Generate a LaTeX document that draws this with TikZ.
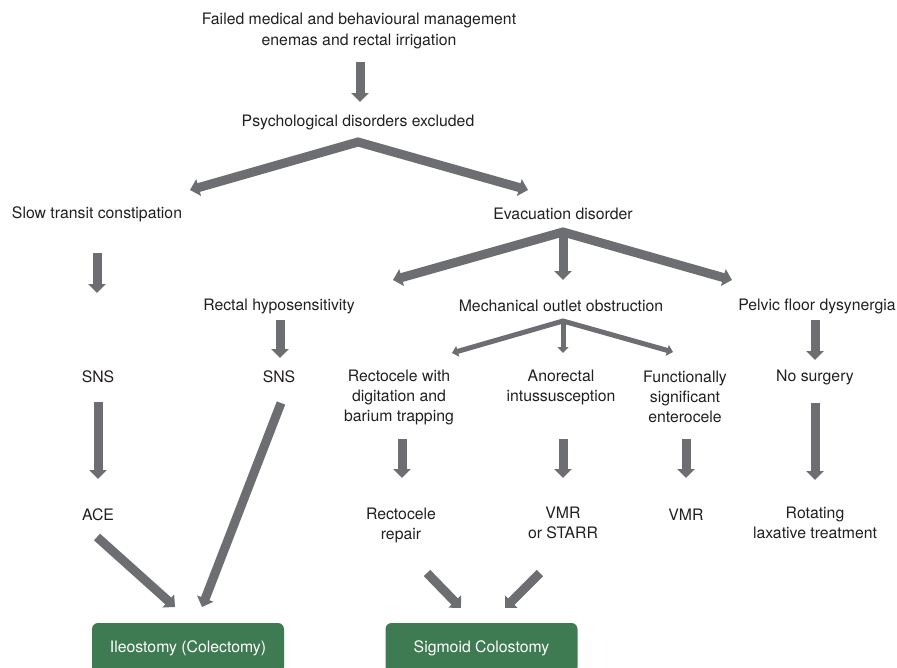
\documentclass[tikz,border=0pt]{standalone}
\usepackage{fontspec}
\setmainfont{TeX Gyre Heros}
\usetikzlibrary{arrows.meta,calc}
\definecolor{arrowgray}{HTML}{6D6E71}
\definecolor{boxgreen}{HTML}{3E7B52}
\definecolor{txtcol}{HTML}{231F20}
\begin{document}
\begin{tikzpicture}[x=1pt,y=-1pt,
  lbl/.style={font=\fontsize{15.8}{20}\selectfont, text=txtcol, inner sep=0pt, align=center},
  fat/.style={draw=arrowgray, line width=9pt, >={Triangle[width=17pt,length=9pt]}},
  slimarrow/.style={draw=arrowgray, line width=5pt, >={Triangle[width=11pt,length=6pt]}},
  greenbox/.style={fill=boxgreen, rounded corners=6pt, minimum width=192pt, minimum height=50pt,
    text=white, font=\fontsize{15.8}{20}\selectfont, inner sep=0pt}]
\useasboundingbox (0,0) rectangle (897,667);
\clip (0,0) rectangle (897,667);

% nodes
\node[lbl] (top) at (359,31) {Failed medical and behavioural management\\[1pt]enemas and rectal irrigation};
\node[lbl] (psych) at (358,122) {Psychological disorders excluded};
\node[lbl] (slow) at (97,214) {Slow transit constipation};
\node[lbl] (evac) at (563,214) {Evacuation disorder};
\node[lbl] (rectal) at (279,306) {Rectal hyposensitivity};
\node[lbl] (mech) at (561,306) {Mechanical outlet obstruction};
\node[lbl] (pelvic) at (817,306) {Pelvic floor dysynergia};
\node[lbl] (sns1) at (98,377) {SNS};
\node[lbl] (sns2) at (279,377) {SNS};
\node[lbl] (rectocele) at (399,397) {Rectocele with\\digitation and\\barium trapping};
\node[lbl] (anorectal) at (561,387) {Anorectal\\intussusception};
\node[lbl] (functionally) at (685,397) {Functionally\\significant\\enterocele};
\node[lbl] (nosurg) at (815,377) {No surgery};
\node[lbl] (ace) at (98,515) {ACE};
\node[lbl] (rrepair) at (401,525) {Rectocele\\repair};
\node[lbl] (vmr) at (563,523) {VMR\\or STARR};
\node[lbl] (vmr2) at (686,515) {VMR};
\node[lbl] (rotating) at (815,523) {Rotating\\laxative treatment};
\node[greenbox] (ileo) at (188,648) {Ileostomy (Colectomy)};
\node[greenbox] (sigmoid) at (481.5,648) {Sigmoid Colostomy};

% branch points
\coordinate (apex1) at ($(psych.center)+(0,20)$);
\coordinate (apex2) at ($(evac.center)+(0,18)$);
\coordinate (apex3) at ($(mech.center)+(2,15)$);

% arrows
\draw[fat,->] ($(top.center)+(1,31)$) -- ($(psych.center)+(2,-20)$);
\draw[fat,<->] ($(slow.center)+(93,-24)$) -- (apex1) -- ($(evac.center)+(-35,-24)$);
\draw[fat,->] ($(slow.center)+(0,39)$) -- ($(sns1.center)+(-1,-84)$);
\draw[fat,<->] ($(rectal.center)+(114,-26)$) -- (apex2) -- ($(pelvic.center)+(-85,-26)$);
\draw[fat,->] (apex2) -- ($(mech.center)+(2,-26)$);
\draw[fat,->] ($(rectal.center)+(1,14)$) -- ($(sns2.center)+(1,-19)$);
\draw[slimarrow,<->] ($(rectocele.center)+(53,-44)$) -- (apex3) -- ($(functionally.center)+(-12,-45)$);
\draw[slimarrow,->] (apex3) -- ($(anorectal.center)+(2,-34)$);
\draw[fat,->] ($(pelvic.center)+(-2,14)$) -- ($(nosurg.center)+(0,-17)$);
\draw[fat,->] ($(sns1.center)+(0,25)$) -- ($(ace.center)+(0,-36)$);
\draw[fat,->] ($(sns2.center)+(2,26)$) -- ($(ileo.center)+(14,-41)$);
\draw[fat,->] ($(rectocele.center)+(3,42)$) -- ($(rrepair.center)+(1,-47)$);
\draw[fat,->] ($(anorectal.center)+(2,52)$) -- ($(vmr.center)+(0,-45)$);
\draw[fat,->] ($(functionally.center)+(1,42)$) -- ($(vmr2.center)+(0,-37)$);
\draw[fat,->] ($(nosurg.center)+(0,26)$) -- ($(rotating.center)+(0,-43)$);
\draw[fat,->] ($(ace.center)+(-1,22)$) -- ($(ileo.center)+(-13,-41)$);
\draw[fat,->] ($(rrepair.center)+(26,48)$) -- ($(sigmoid.center)+(-20.5,-40)$);
\draw[fat,->] ($(vmr.center)+(-23,50)$) -- ($(sigmoid.center)+(23.5,-40)$);
\end{tikzpicture}
\end{document}
